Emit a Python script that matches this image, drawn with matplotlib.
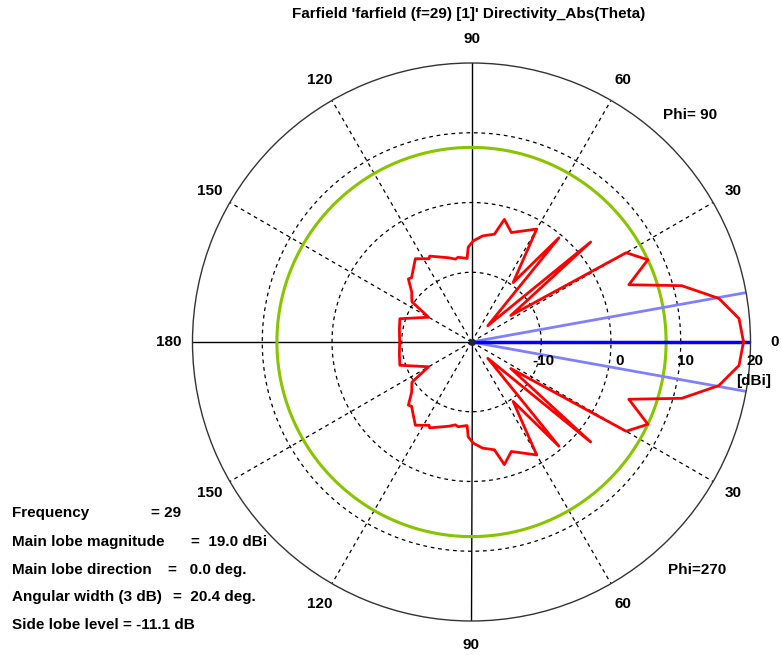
import numpy as np
import matplotlib
matplotlib.use("Agg")
import matplotlib.pyplot as plt

plt.rcParams['font.family'] = ['Liberation Sans', 'DejaVu Sans']
plt.rcParams['font.weight'] = 'bold'

# farfield cut, Phi=90 half (theta in deg, directivity in dBi); Phi=270 half is the mirror
theta_up = [0, 5, 10, 15, 20, 25, 30, 34, 40, 45, 50, 55, 60, 70, 75, 78, 84, 89,
            92, 93, 99, 101, 105, 116, 117, 124, 133, 135, 140, 146, 150, 162, 170, 180]
dbi_up = [19.0, 18.5, 16.0, 11.2, 4.0, 7.9, 5.6, -13.2, 2.3, -16.7, -0.5, -9.6, -1.3, -3.3,
          -1.8, -4.2, -4.7, -5.5, -6.4, -8.0, -7.7, -7.9, -7.5, -6.3, -6.6, -5.6, -7.4, -7.2,
          -8.8, -9.7, -12.9, -9.2, -9.5, -9.7]

main_lobe_dir = 0.0
main_lobe_mag = 19.0
beam_width = 20.4
side_lobe = -11.1

rings = [-10, 0, 10]
r_min, r_max = -20, 20
spoke_angles = [30, 60, 120, 150, 210, 240, 300, 330]
axis_angles = [0, 90, 180, 270]
angle_labels = ["0", "30", "60", "90", "120", "150", "180", "150", "120", "90", "60", "30"]

info_names = ["Frequency", "Main lobe magnitude", "Main lobe direction",
              "Angular width (3 dB)", "Side lobe level = -11.1 dB"]
info_values = ["= 29", "=  19.0 dBi", "=   0.0 deg.", "=  20.4 deg.", ""]

FS = 11
W, H = 781, 655
fig = plt.figure(figsize=(W / 100, H / 100), dpi=100)
cx, cy, R = 471.5, 342, 279
ax = fig.add_axes([(cx - R) / W, (H - cy - R) / H, 2 * R / W, 2 * R / H], projection='polar')
ax.set_theta_zero_location('E')
ax.set_ylim(r_min, r_max)
ax.grid(False)
ax.set_xticks([])
ax.set_yticks([])
ax.spines['polar'].set_color('#333333')
ax.spines['polar'].set_linewidth(1.0)

full = np.linspace(0, 2 * np.pi, 400)
for r in rings:
    ax.plot(full, np.full_like(full, r), color='black', lw=0.9, ls=(0, (3, 3)))
for a in spoke_angles:
    ax.plot([np.deg2rad(a)] * 2, [r_min, r_max], color='black', lw=0.9, ls=(0, (3, 3)))
for a in axis_angles:
    ax.plot([np.deg2rad(a)] * 2, [r_min, r_max], color='black', lw=1.0)

# side lobe level circle
sll = main_lobe_mag + side_lobe
ax.plot(full, np.full_like(full, sll), color='#88c400', lw=2.2)

# 3 dB beam width lines and main lobe direction
for a in [main_lobe_dir - beam_width / 2, main_lobe_dir + beam_width / 2]:
    ax.plot([np.deg2rad(a)] * 2, [r_min, r_max], color='#8080ff', lw=2.0)
ax.plot([np.deg2rad(main_lobe_dir)] * 2, [r_min, r_max], color='#0000ff', lw=2.5)

th = theta_up + [360 - t for t in theta_up[::-1]]
db = dbi_up + dbi_up[::-1]
ax.plot(np.deg2rad(th), db, color='red', lw=2.0)
ax.plot([0], [r_min], 'o', color='#202040', ms=4)

for i, lab in enumerate(angle_labels):
    ax.text(np.deg2rad(i * 30), 23.4, lab, ha='center', va='center', fontsize=FS, clip_on=False)

for r, lab in zip(rings + [20], ["-10", "0", "10", "20"]):
    ax.annotate(lab, xy=(0, r), xytext=(9.5, -14), textcoords='offset points',
                ha='right', va='center', fontsize=FS)
ax.annotate("[dBi]", xy=(0, 20), xytext=(2, -28), textcoords='offset points',
            ha='center', va='center', fontsize=FS)

fig.text(469 / W, 1 - 14 / H, "Farfield 'farfield (f=29) [1]' Directivity_Abs(Theta)",
         ha='center', va='center', fontsize=FS)
fig.text(690 / W, 1 - 115 / H, "Phi= 90", ha='center', va='center', fontsize=FS)
fig.text(697 / W, 1 - 570 / H, "Phi=270", ha='center', va='center', fontsize=FS)

ys = [513, 542, 570, 597, 625]
xv = [151, 191, 168, 173, 0]
for name, val, y, x in zip(info_names, info_values, ys, xv):
    fig.text(12 / W, 1 - y / H, name, ha='left', va='center', fontsize=FS)
    if val:
        fig.text(x / W, 1 - y / H, val, ha='left', va='center', fontsize=FS)

fig.savefig("out.png", dpi=100)
